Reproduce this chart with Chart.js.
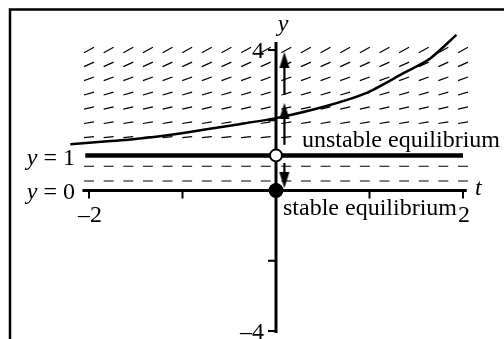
<!DOCTYPE html>
<html lang="en">
<head>
    <meta charset="UTF-8">
    <title>Equilibrium solutions</title>
    <script src="https://cdn.jsdelivr.net/npm/chart.js"></script>
    <style>
        html, body { margin: 0; padding: 0; background: #fff; }
        .chart-container { position: relative; width: 504px; height: 339px; }
    </style>
</head>
<body>
    <div class="chart-container">
        <canvas id="phaseChart"></canvas>
    </div>
    <script>
        // slope field grid: columns in t, rows in y, one slope per row
        const fieldT = [-2, -1.79, -1.58, -1.37, -1.16, -0.95, -0.74, -0.53, -0.32, -0.11,
                        0.11, 0.32, 0.53, 0.74, 0.95, 1.16, 1.37, 1.58, 1.79, 2];
        const fieldY = [0.27, 0.69, 1.52, 1.93, 2.35, 2.76, 3.18, 3.59, 4.0];
        const fieldSlope = [0, 0, 0.27, 0.43, 0.6, 0.78, 0.97, 1.2, 1.45];

        // one solution curve above y = 1
        const solT = [-2.2, -2.0, -1.53, -0.99, -0.46, 0, 0.52, 0.97, 1.33, 1.65, 1.93];
        const solY = [1.32, 1.36, 1.46, 1.64, 1.86, 2.06, 2.39, 2.78, 3.29, 3.76, 4.43];

        // equilibrium y = 1 and the two marked points on the y axis
        const eqT = [-2.04, 2];
        const eqY = 1;
        const unstableY = 1;
        const stableY = 0;

        // phase line arrows beside the y axis
        const arrowT = 0.09;
        const arrowFrom = [2.72, 1.3, 0.78];
        const arrowTo = [3.72, 2.27, 0.29];

        // axes
        const tAxisRange = [-2.07, 2.04];
        const yAxisRange = [-4.06, 4.23];
        const tTicks = [-2, -1, 1, 2];
        const tTickLabels = ['\u20132', '', '', '2'];
        const yTicks = [4, 2, -2, -4];
        const yTickLabels = ['4', '', '', '\u20134'];

        const SERIF = '"Liberation Serif", "Times New Roman", serif';
        const DASH_HALF = 0.053;

        // short dashes, separated by gaps
        const fieldPoints = [];
        fieldY.forEach((yv, i) => {
            const s = fieldSlope[i];
            fieldT.forEach(tv => {
                fieldPoints.push({ x: tv - DASH_HALF, y: yv - s * DASH_HALF });
                fieldPoints.push({ x: tv + DASH_HALF, y: yv + s * DASH_HALF });
                fieldPoints.push({ x: tv + DASH_HALF, y: null });
            });
        });

        // arrowhead image, pointing up
        function makeHead() {
            const c = document.createElement('canvas');
            c.width = 12;
            c.height = 16;
            const g = c.getContext('2d');
            g.fillStyle = '#000';
            g.beginPath();
            g.moveTo(6, 0);
            g.lineTo(11, 16);
            g.lineTo(1, 16);
            g.closePath();
            g.fill();
            return c;
        }
        const head = makeHead();

        const arrowSets = arrowFrom.map((from, i) => ({
            data: [{ x: arrowT, y: from }, { x: arrowT, y: arrowTo[i] }],
            showLine: true,
            borderColor: '#000',
            borderWidth: 2.2,
            pointStyle: head,
            pointRadius: [0, 5],
            rotation: arrowTo[i] > from ? 0 : 180,
            order: 1
        }));

        function drawText(ctx, parts, x, y, align) {
            let w = 0;
            parts.forEach(p => { ctx.font = p.font; w += ctx.measureText(p.text).width; });
            let cx = align === 'right' ? x - w : (align === 'center' ? x - w / 2 : x);
            parts.forEach(p => {
                ctx.font = p.font;
                ctx.fillText(p.text, cx, y);
                cx += ctx.measureText(p.text).width;
            });
            return w;
        }

        const axesPlugin = {
            id: 'phaseAxes',
            beforeDatasetsDraw(chart) {
                const { ctx, scales: { x, y } } = chart;
                const x0 = x.getPixelForValue(0);
                const y0 = y.getPixelForValue(0);
                ctx.save();
                ctx.strokeStyle = '#000';
                ctx.lineCap = 'butt';

                ctx.lineWidth = 3;
                ctx.beginPath();
                ctx.moveTo(x.getPixelForValue(tAxisRange[0]), y0);
                ctx.lineTo(x.getPixelForValue(tAxisRange[1]), y0);
                ctx.moveTo(x0, y.getPixelForValue(yAxisRange[1]));
                ctx.lineTo(x0, y.getPixelForValue(yAxisRange[0]));
                ctx.stroke();

                ctx.lineWidth = 2;
                ctx.beginPath();
                tTicks.forEach(v => {
                    const px = x.getPixelForValue(v);
                    ctx.moveTo(px, y0 - 1);
                    ctx.lineTo(px, y0 + 8);
                });
                yTicks.forEach(v => {
                    const py = y.getPixelForValue(v);
                    ctx.moveTo(x0 - 8, py);
                    ctx.lineTo(x0, py);
                });
                ctx.stroke();

                // frame on the left and top
                ctx.lineWidth = 2.5;
                ctx.beginPath();
                ctx.moveTo(10, chart.height);
                ctx.lineTo(10, 9.5);
                ctx.lineTo(chart.width, 9.5);
                ctx.stroke();
                ctx.restore();
            },
            afterDatasetsDraw(chart) {
                const { ctx, scales: { x, y } } = chart;
                const x0 = x.getPixelForValue(0);
                const y0 = y.getPixelForValue(0);
                const plain = '24px ' + SERIF;
                const ital = 'italic 24px ' + SERIF;
                ctx.save();
                ctx.fillStyle = '#000';
                ctx.textBaseline = 'alphabetic';

                tTicks.forEach((v, i) => {
                    if (!tTickLabels[i]) return;
                    drawText(ctx, [{ text: tTickLabels[i], font: plain }],
                        x.getPixelForValue(v) + 1, y0 + 31, 'center');
                });
                yTicks.forEach((v, i) => {
                    if (!yTickLabels[i]) return;
                    drawText(ctx, [{ text: yTickLabels[i], font: plain }],
                        x0 - 12, y.getPixelForValue(v) + 8, 'right');
                });

                drawText(ctx, [{ text: 'y', font: ital }], x0 + 7, y.getPixelForValue(4) - 19, 'center');
                drawText(ctx, [{ text: 't', font: ital }], x.getPixelForValue(2) + 12, y0 + 4.5, 'left');

                const lx = x.getPixelForValue(-2) - 14;
                drawText(ctx, [{ text: 'y', font: ital }, { text: ' = 1', font: plain }],
                    lx, y.getPixelForValue(1) + 10, 'right');
                drawText(ctx, [{ text: 'y', font: ital }, { text: ' = 0', font: plain }],
                    lx, y0 + 8.5, 'right');

                // label for the unstable state sits on a white box over the field
                const ux = x0 + 26;
                const uy = y.getPixelForValue(1) - 8;
                ctx.font = plain;
                const uw = ctx.measureText('unstable equilibrium').width;
                ctx.fillStyle = '#fff';
                ctx.fillRect(ux - 2, uy - 17, uw + 4, 21);
                ctx.fillStyle = '#000';
                drawText(ctx, [{ text: 'unstable equilibrium', font: plain }], ux, uy, 'left');
                drawText(ctx, [{ text: 'stable equilibrium', font: plain }], x0 + 7, y0 + 24.5, 'left');
                ctx.restore();
            }
        };

        new Chart(document.getElementById('phaseChart'), {
            type: 'scatter',
            data: {
                datasets: [
                    {
                        data: [{ x: 0, y: unstableY }],
                        pointRadius: 6,
                        pointBackgroundColor: '#fff',
                        pointBorderColor: '#000',
                        pointBorderWidth: 2,
                        order: 0
                    },
                    {
                        data: [{ x: 0, y: stableY }],
                        pointRadius: 7.5,
                        pointBackgroundColor: '#000',
                        pointBorderColor: '#000',
                        pointBorderWidth: 0,
                        order: 0
                    },
                    ...arrowSets,
                    {
                        data: solT.map((t, i) => ({ x: t, y: solY[i] })),
                        showLine: true,
                        borderColor: '#000',
                        borderWidth: 2.5,
                        tension: 0.2,
                        pointRadius: 0,
                        order: 2
                    },
                    {
                        data: eqT.map(t => ({ x: t, y: eqY })),
                        showLine: true,
                        borderColor: '#000',
                        borderWidth: 4.5,
                        pointRadius: 0,
                        order: 3
                    },
                    {
                        data: fieldPoints,
                        showLine: true,
                        spanGaps: false,
                        borderColor: '#000',
                        borderWidth: 1.2,
                        pointRadius: 0,
                        order: 4
                    }
                ]
            },
            options: {
                responsive: true,
                maintainAspectRatio: false,
                animation: false,
                clip: false,
                layout: { padding: { left: 89, right: 41, top: 50, bottom: 8 } },
                scales: {
                    x: { type: 'linear', min: -2, max: 2, display: false },
                    y: { type: 'linear', min: -4, max: 4, display: false }
                },
                plugins: {
                    legend: { display: false },
                    tooltip: { enabled: false }
                }
            },
            plugins: [axesPlugin]
        });
    </script>
</body>
</html>
